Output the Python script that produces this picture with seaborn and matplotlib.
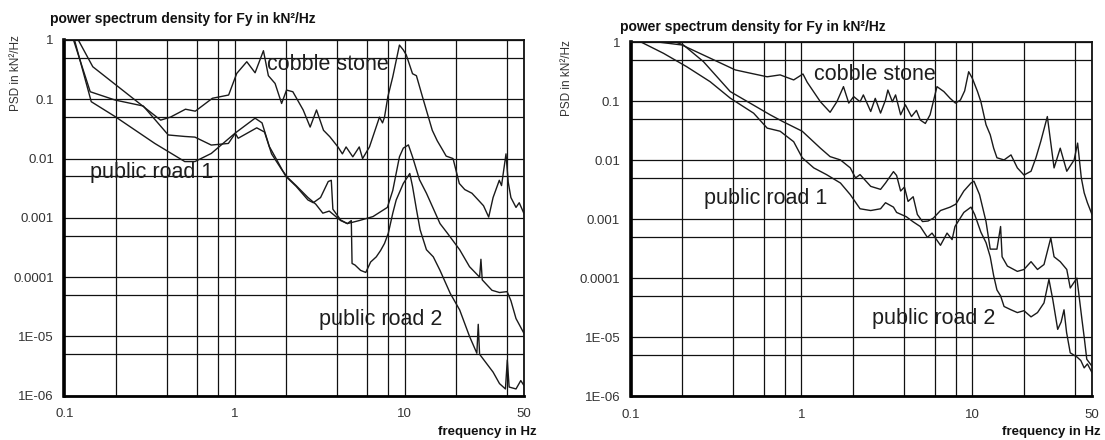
import matplotlib
matplotlib.use("Agg")
import matplotlib.pyplot as plt
import seaborn as sns
import pandas as pd
from matplotlib.ticker import FixedLocator, FixedFormatter, NullFormatter
from matplotlib import font_manager

# ---------------- data ----------------
title_text = "power spectrum density for Fy in kN\u00b2/Hz"
ylabel_text = "PSD in kN\u00b2/Hz"
xlabel_text = "frequency in Hz"
curve_names = ["cobble stone", "public road 1", "public road 2"]

y_major = [1e-6, 1e-5, 1e-4, 1e-3, 1e-2, 1e-1, 1]
y_major_labels = ["1E-06", "1E-05", "0.0001", "0.001", "0.01", "0.1", "1"]
y_minor = [5e-6, 5e-5, 5e-4, 5e-3, 5e-2, 0.5]
x_major = [0.1, 1, 10, 50]
x_major_labels = ["0.1", "1", "10", "50"]
x_minor = [0.2, 0.4, 0.6, 0.8, 2, 4, 6, 8, 20, 40]

# left chart
left_cobble_f = [0.115, 0.147, 0.368, 0.42, 0.515, 0.588, 0.741, 0.923, 1.03, 1.18, 1.32, 1.478, 1.58,
                 1.73, 1.89, 2.02, 2.2, 2.53, 2.78, 3.03, 3.33, 3.63, 4.05, 4.3, 4.52, 4.95, 5.4, 5.65,
                 6.2, 7.1, 7.4, 7.6, 7.95, 8.5, 9.3, 9.8, 10.2, 11.1, 11.7, 12.7, 14.5, 15.5, 16.7, 17.5,
                 19.2, 20.9, 22.5, 24.8, 27.0, 29.0, 31.1, 33.0, 35.9, 37.0, 39.3, 40.5, 42.0, 45.0, 47.0, 50.0]
left_cobble_psd = [1.3, 0.354, 0.0445, 0.05, 0.068, 0.063, 0.104, 0.118, 0.273, 0.43, 0.28, 0.66, 0.25,
                   0.185, 0.085, 0.143, 0.134, 0.066, 0.034, 0.066, 0.030, 0.0233, 0.0157, 0.012, 0.0157,
                   0.0107, 0.0157, 0.0100, 0.0157, 0.05, 0.04, 0.05, 0.11, 0.24, 0.82, 0.68, 0.56, 0.27,
                   0.25, 0.11, 0.030, 0.020, 0.0139, 0.011, 0.0100, 0.0038, 0.0030, 0.0026, 0.0020, 0.0016,
                   0.00103, 0.0022, 0.0043, 0.0035, 0.012, 0.004, 0.0022, 0.0015, 0.0018, 0.0012]

left_road1_f = [0.112, 0.144, 0.199, 0.34, 0.51, 0.585, 0.73, 1.01, 1.32, 1.45, 1.6, 1.73, 2.0, 2.3, 2.7,
                2.9, 3.2, 3.55, 3.7, 3.78, 4.2, 4.6, 5.4, 6.5, 7.9, 8.5, 9.3, 9.8, 10.5, 11.1, 12.2, 13.4,
                14.6, 16.1, 17.8, 21.0, 24.0, 27.5, 28.0, 28.5, 32.5, 36.0, 39.9, 42.0, 45.0, 50.0]
left_road1_psd = [1.3, 0.091, 0.051, 0.018, 0.0089, 0.0089, 0.0122, 0.027, 0.048, 0.040, 0.016, 0.0107,
                  0.005, 0.0034, 0.002, 0.0018, 0.0022, 0.0041, 0.0043, 0.0014, 0.00092, 0.0008, 0.0009,
                  0.00105, 0.0015, 0.0029, 0.0107, 0.015, 0.017, 0.0107, 0.0044, 0.0026, 0.0015, 0.0008,
                  0.00055, 0.00029, 0.00015, 0.0001, 0.0002, 0.00009, 0.00006, 0.000055, 0.000057,
                  0.00004, 0.00002, 0.0000114]

left_road2_f = [0.11, 0.142, 0.199, 0.291, 0.408, 0.51, 0.585, 0.73, 0.92, 1.01, 1.05, 1.35, 1.5, 1.65,
                1.9, 2.05, 2.3, 2.7, 3.0, 3.3, 3.6, 4.2, 4.6, 4.85, 4.9, 5.1, 5.5, 5.9, 6.3, 6.8, 7.2, 7.6,
                8.0, 8.5, 8.9, 9.8, 10.7, 11.1, 11.7, 12.3, 13.4, 14.7, 16.1, 18.5, 21.0, 24.0, 26.5, 27.0,
                27.5, 33.0, 36.0, 39.0, 40.0, 41.0, 45.0, 48.0, 50.0]
left_road2_psd = [1.3, 0.134, 0.097, 0.077, 0.025, 0.0236, 0.023, 0.0169, 0.018, 0.0267, 0.022, 0.033,
                  0.028, 0.012, 0.0064, 0.0048, 0.0035, 0.0022, 0.0017, 0.0012, 0.0013, 0.0009, 0.0008,
                  0.0009, 0.00017, 0.00016, 0.00013, 0.00012, 0.00018, 0.00022, 0.00028, 0.00037, 0.00055,
                  0.0012, 0.002, 0.0038, 0.0056, 0.0034, 0.0014, 0.00063, 0.00029, 0.00022, 0.00013,
                  0.000053, 0.000028, 0.00001, 0.0000052, 0.000016, 0.000005, 0.0000025, 0.0000016,
                  0.0000013, 0.000004, 0.0000014, 0.0000013, 0.0000018, 0.0000015]

# right chart
right_cobble_f = [0.12, 0.149, 0.2, 0.41, 0.5, 0.63, 0.75, 0.9, 1.02, 1.08, 1.29, 1.47, 1.61, 1.76, 1.89,
                  2.02, 2.2, 2.3, 2.54, 2.7, 2.9, 3.1, 3.2, 3.4, 3.55, 3.8, 4.05, 4.4, 4.7, 4.95, 5.3, 5.65,
                  6.2, 6.8, 7.4, 7.95, 8.5, 9.0, 9.5, 9.98, 10.7, 11.2, 12.0, 12.7, 13.3, 13.9, 15.3, 16.8,
                  18.3, 20.0, 22.0, 23.5, 25.1, 27.4, 30.0, 32.6, 35.6, 39.3, 41.2, 43.3, 45.0, 47.0, 50.0]
right_cobble_psd = [1.2, 1.0, 0.90, 0.34, 0.30, 0.26, 0.28, 0.23, 0.29, 0.21, 0.098, 0.065, 0.098, 0.177,
                    0.093, 0.12, 0.098, 0.128, 0.067, 0.112, 0.063, 0.105, 0.155, 0.098, 0.128, 0.059,
                    0.087, 0.055, 0.07, 0.048, 0.042, 0.059, 0.177, 0.146, 0.112, 0.093, 0.105, 0.15,
                    0.317, 0.245, 0.146, 0.098, 0.04, 0.027, 0.016, 0.011, 0.0101, 0.0123, 0.0074, 0.0056,
                    0.0065, 0.011, 0.021, 0.055, 0.0074, 0.016, 0.0065, 0.0101, 0.0195, 0.005, 0.0028,
                    0.0019, 0.0012]

right_road1_f = [0.108, 0.116, 0.156, 0.213, 0.292, 0.383, 0.525, 0.63, 0.75, 0.9, 1.01, 1.18, 1.4, 1.69,
                 1.93, 2.2, 2.54, 2.9, 3.1, 3.45, 3.6, 4.1, 4.5, 4.95, 5.45, 5.8, 6.5, 7.1, 7.6, 7.9, 8.9,
                 9.8, 10.3, 11.2, 12.0, 12.7, 13.3, 13.9, 14.6, 15.3, 16.8, 18.3, 20.0, 22.0, 24.0, 26.2,
                 28.0, 29.5, 31.5, 33.0, 34.3, 35.5, 37.3, 40.8, 43.0, 45.0, 47.0, 50.0]
right_road1_psd = [1.3, 1.0, 0.65, 0.386, 0.215, 0.113, 0.0627, 0.035, 0.031, 0.0206, 0.011, 0.0074,
                   0.0057, 0.0041, 0.0026, 0.0015, 0.0014, 0.0015, 0.0019, 0.0016, 0.0013, 0.0011, 0.0009,
                   0.00075, 0.00049, 0.00058, 0.00036, 0.00058, 0.00045, 0.00075, 0.0013, 0.0016, 0.0012,
                   0.0006, 0.0004, 0.00023, 0.00011, 0.000063, 0.00005, 0.000033, 0.000029, 0.000026,
                   0.000028, 0.000022, 0.000026, 0.000038, 0.000095, 0.000043, 0.0000135, 0.000018,
                   0.000029, 0.000012, 0.0000054, 0.0000046, 0.000004, 0.000003, 0.0000035, 0.0000025]

right_road2_f = [0.17, 0.204, 0.267, 0.383, 0.50, 0.655, 0.78, 1.01, 1.29, 1.47, 1.69, 1.93, 2.07, 2.2,
                 2.54, 2.9, 3.1, 3.45, 3.6, 3.8, 4.0, 4.2, 4.5, 4.76, 5.1, 5.5, 5.9, 6.5, 7.4, 8.0, 8.9,
                 9.8, 10.2, 11.0, 12.0, 12.7, 13.9, 14.6, 14.9, 16.0, 18.3, 20.0, 22.0, 24.0, 26.2, 28.7,
                 30.0, 32.6, 35.6, 37.3, 40.8, 42.0, 43.7, 45.0, 46.6, 50.0]
right_road2_psd = [1.1, 0.90, 0.47, 0.146, 0.093, 0.059, 0.045, 0.031, 0.016, 0.0115, 0.0101, 0.0074,
                   0.005, 0.0057, 0.0036, 0.0032, 0.0041, 0.0064, 0.0055, 0.003, 0.0035, 0.002, 0.0024,
                   0.0012, 0.00091, 0.00093, 0.00104, 0.0014, 0.0016, 0.0018, 0.003, 0.0041, 0.0044,
                   0.0026, 0.00091, 0.00031, 0.00031, 0.00075, 0.00023, 0.00016, 0.00013, 0.00014,
                   0.00019, 0.00014, 0.00017, 0.00048, 0.00023, 0.00019, 0.00014, 0.000068, 0.0001,
                   0.00005, 0.0000195, 0.00001, 0.0000042, 0.0000032]

# ---------------- style ----------------
sns.set_style("white")
names = {f.name for f in font_manager.fontManager.ttflist}
narrow = "Liberation Sans Narrow" if "Liberation Sans Narrow" in names else "Liberation Sans"
plt.rcParams["font.family"] = ["Liberation Sans", "DejaVu Sans"]

W, H = 1105, 440
fig = plt.figure(figsize=(W / 100, H / 100), dpi=100)
fig.patch.set_facecolor("white")

line_col = "#1a1a1a"
grid_col = "#111111"


def make_axes(rect):
    ax = fig.add_axes(rect)
    ax.set_xscale("log")
    ax.set_yscale("log")
    ax.set_xlim(0.1, 50)
    ax.set_ylim(1e-6, 1)
    ax.yaxis.set_major_locator(FixedLocator(y_major))
    ax.yaxis.set_major_formatter(FixedFormatter(y_major_labels))
    ax.yaxis.set_minor_locator(FixedLocator(y_minor))
    ax.yaxis.set_minor_formatter(NullFormatter())
    ax.xaxis.set_major_locator(FixedLocator(x_major))
    ax.xaxis.set_major_formatter(FixedFormatter(x_major_labels))
    ax.xaxis.set_minor_locator(FixedLocator(x_minor))
    ax.xaxis.set_minor_formatter(NullFormatter())
    ax.grid(which="both", color=grid_col, linewidth=0.9)
    ax.set_axisbelow(True)
    for s in ["top", "right"]:
        ax.spines[s].set_linewidth(1.3)
        ax.spines[s].set_color("#111111")
    ax.spines["left"].set_linewidth(2.6)
    ax.spines["bottom"].set_linewidth(2.0)
    ax.spines["left"].set_color("black")
    ax.spines["bottom"].set_color("black")
    ax.tick_params(axis="y", which="major", direction="inout", length=13, width=1.8,
                   labelsize=9.5, labelcolor="#333333", pad=1)
    ax.tick_params(axis="y", which="minor", direction="inout", length=8, width=1.8)
    ax.tick_params(axis="x", which="major", direction="inout", length=14, width=1.5,
                   labelsize=9.5, labelcolor="#333333", pad=2)
    ax.tick_params(axis="x", which="minor", direction="inout", length=10, width=1.5)
    return ax


def draw(ax, f, p):
    sns.lineplot(x=f, y=p, ax=ax, color=line_col, linewidth=1.0, estimator=None,
                 sort=False, legend=False)


axL = make_axes([64.3 / W, 1 - 395.7 / H, (523.8 - 64.3) / W, (395.7 - 40) / H])
axR = make_axes([630.5 / W, 1 - 396.0 / H, (1092 - 630.5) / W, (396.0 - 42.3) / H])

draw(axL, left_cobble_f, left_cobble_psd)
draw(axL, left_road1_f, left_road1_psd)
draw(axL, left_road2_f, left_road2_psd)
draw(axR, right_cobble_f, right_cobble_psd)
draw(axR, right_road1_f, right_road1_psd)
draw(axR, right_road2_f, right_road2_psd)

for ax in (axL, axR):
    ax.set_xlabel("")
    ax.set_ylabel("")

lab_kw = dict(fontsize=15.5, color="#1e1e1e", ha="left", va="center")
axL.text(1.55, 0.39, curve_names[0], **lab_kw)
axL.text(0.1416, 0.00578, curve_names[1], **lab_kw)
axL.text(3.15, 1.9e-5, curve_names[2], **lab_kw)
axR.text(1.19, 0.279, curve_names[0], **lab_kw)
axR.text(0.27, 0.00227, curve_names[1], **lab_kw)
axR.text(2.59, 2.09e-5, curve_names[2], **lab_kw)

# titles, axis labels
title_kw = dict(fontsize=10, fontweight="bold", family=[narrow, "DejaVu Sans"], color="#111111",
                ha="left", va="center")
fig.text(50 / W, 1 - 18.5 / H, title_text, **title_kw)
fig.text(620 / W, 1 - 26.5 / H, title_text, **title_kw)

yl_kw = dict(fontsize=8.5, color="#333333", rotation=90, ha="center", va="center")
fig.text(16 / W, 1 - 73 / H, ylabel_text, **yl_kw)
fig.text(567 / W, 1 - 78 / H, ylabel_text, **yl_kw)

xl_kw = dict(fontsize=9.5, fontweight="bold", color="#111111", ha="right", va="center")
fig.text(537 / W, 1 - 432 / H, xlabel_text, **xl_kw)
fig.text(1101 / W, 1 - 432 / H, xlabel_text, **xl_kw)

fig.savefig("out.png", dpi=100, facecolor="white")
